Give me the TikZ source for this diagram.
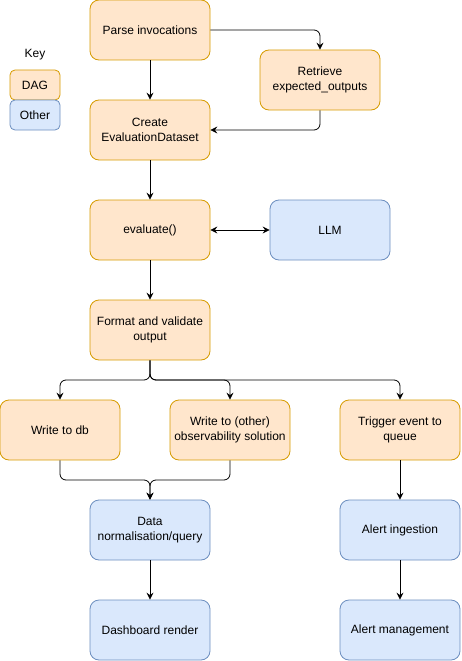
\documentclass[tikz,border=0pt]{standalone}
\usepackage{fontspec}
\setmainfont{Liberation Sans}
\usetikzlibrary{arrows.meta}
\definecolor{ofill}{HTML}{FFE6CC}
\definecolor{odraw}{HTML}{D79B00}
\definecolor{bfill}{HTML}{DAE8FC}
\definecolor{bdraw}{HTML}{6C8EBF}
\begin{document}
\begin{tikzpicture}[x=1pt,y=-1pt,
  box/.style={rectangle,rounded corners=9pt,minimum width=120pt,minimum height=60pt,
    align=center,font=\fontsize{12}{14.5}\selectfont,inner sep=2pt,line width=0.8pt},
  dag/.style={box,fill=ofill,draw=odraw},
  other/.style={box,fill=bfill,draw=bdraw},
  keybox/.style={rectangle,rounded corners=5pt,minimum width=50pt,minimum height=30pt,
    font=\fontsize{12}{14.5}\selectfont,inner sep=0pt,line width=0.8pt},
  conn/.style={line width=0.8pt,rounded corners=6pt,-{Stealth[length=7pt,width=7pt,inset=2.5pt]}},
  conn2/.style={line width=0.8pt,{Stealth[length=7pt,width=7pt,inset=2.5pt]}-{Stealth[length=7pt,width=7pt,inset=2.5pt]}}
]
\useasboundingbox (0,0) rectangle (461,661);
% key
\node[font=\fontsize{12}{14.5}\selectfont] (keylbl) at (35,55) {Key};
\node[keybox,fill=ofill,draw=odraw] (kdag) at (35,85) {DAG};
\node[keybox,fill=bfill,draw=bdraw] (kother) at (35,115) {Other};
% nodes
\node[dag] (parse) at (150,30) {Parse invocations};
\node[dag] (retr) at (320,80) {Retrieve\\expected\_outputs};
\node[dag] (create) at (150,130) {Create\\EvaluationDataset};
\node[dag] (eval) at (150,230) {evaluate()};
\node[other] (llm) at (330,230) {LLM};
\node[dag] (fmt) at (150,330) {Format and validate\\output};
\node[dag] (db) at (60,430) {Write to db};
\node[dag] (obs) at (230,430) {Write to (other)\\observability solution};
\node[dag] (trig) at (400,430) {Trigger event to\\queue};
\node[other] (norm) at (150,530) {Data\\normalisation/query};
\node[other] (ingest) at (400,530) {Alert ingestion};
\node[other] (dash) at (150,630) {Dashboard render};
\node[other] (mgmt) at (400,630) {Alert management};
% connectors
\draw[conn] (parse.east) -| (retr.north);
\draw[conn] (parse.south) -- (create.north);
\draw[conn] (retr.south) |- (create.east);
\draw[conn] (create.south) -- (eval.north);
\draw[conn2] (eval.east) -- (llm.west);
\draw[conn] (eval.south) -- (fmt.north);
\draw[conn] (fmt.south) -- (150,380) -| (db.north);
\draw[conn] (fmt.south) -- (150,380) -| (obs.north);
\draw[conn] (fmt.south) -- (150,380) -| (trig.north);
\draw[conn] (db.south) -- (60,480) -| (norm.north);
\draw[conn] (obs.south) -- (230,480) -| (norm.north);
\draw[conn] (trig.south) -- (ingest.north);
\draw[conn] (norm.south) -- (dash.north);
\draw[conn] (ingest.south) -- (mgmt.north);
\end{tikzpicture}
\end{document}
